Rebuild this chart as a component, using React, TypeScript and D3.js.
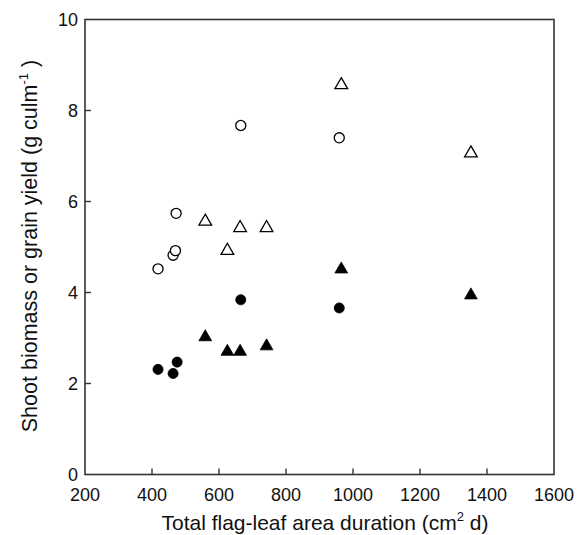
import React, { useEffect, useRef } from 'react';
import * as d3 from 'd3';

// flag-leaf area duration (cm2 d) and values (g culm-1)
const shootCircleX = [418, 463, 470, 472, 665, 959];
const shootCircleY = [4.52, 4.82, 4.92, 5.74, 7.67, 7.40];
const shootTriX = [559, 625, 663, 742, 965, 1352];
const shootTriY = [5.56, 4.92, 5.42, 5.42, 8.56, 7.06];
const grainCircleX = [418, 463, 475, 665, 959];
const grainCircleY = [2.31, 2.22, 2.47, 3.84, 3.66];
const grainTriX = [559, 625, 663, 742, 965, 1352];
const grainTriY = [3.02, 2.70, 2.70, 2.82, 4.51, 3.94];

const xTicks = [200, 400, 600, 800, 1000, 1200, 1400, 1600];
const yTicks = [0, 2, 4, 6, 8, 10];

const App = () => {
  const ref = useRef<SVGSVGElement | null>(null);

  useEffect(() => {
    const width = 585;
    const height = 535;
    const margin = { top: 19.5, right: 31, bottom: 60.5, left: 85 };
    const svg = d3.select(ref.current);
    svg.selectAll('*').remove();

    const x = d3.scaleLinear().domain([200, 1600]).range([margin.left, width - margin.right]);
    const y = d3.scaleLinear().domain([0, 10]).range([height - margin.bottom, margin.top]);

    const font = "'Liberation Sans', Arial, sans-serif";
    const axisColor = '#333';

    // frame
    svg.append('rect')
      .attr('x', x(200)).attr('y', y(10))
      .attr('width', x(1600) - x(200)).attr('height', y(0) - y(10))
      .attr('fill', 'none').attr('stroke', axisColor).attr('stroke-width', 1.6);

    // ticks (inward)
    const tickLen = 6;
    svg.append('g').selectAll('line').data(xTicks.slice(1, -1)).enter().append('line')
      .attr('x1', d => x(d)).attr('x2', d => x(d))
      .attr('y1', y(0)).attr('y2', y(0) - tickLen)
      .attr('stroke', axisColor).attr('stroke-width', 1.4);
    svg.append('g').selectAll('line').data(yTicks.slice(1, -1)).enter().append('line')
      .attr('x1', x(200)).attr('x2', x(200) + tickLen)
      .attr('y1', d => y(d)).attr('y2', d => y(d))
      .attr('stroke', axisColor).attr('stroke-width', 1.4);

    // tick labels
    svg.append('g').selectAll('text').data(xTicks).enter().append('text')
      .attr('x', d => x(d)).attr('y', y(0) + 26)
      .attr('text-anchor', 'middle')
      .style('font-family', font).style('font-size', '18px').attr('fill', '#111')
      .text(d => d);
    svg.append('g').selectAll('text').data(yTicks).enter().append('text')
      .attr('x', x(200) - 7).attr('y', d => y(d) + 6)
      .attr('text-anchor', 'end')
      .style('font-family', font).style('font-size', '18px').attr('fill', '#111')
      .text(d => d);

    // axis titles
    const xt = svg.append('text')
      .attr('x', 325).attr('y', 530)
      .attr('text-anchor', 'middle')
      .style('font-family', font).style('font-size', '21px').attr('fill', '#111');
    xt.append('tspan').text('Total flag-leaf area duration (cm');
    xt.append('tspan').attr('dy', -9).style('font-size', '13px').text('2');
    xt.append('tspan').attr('dy', 9).text(' d)');

    const yt = svg.append('text')
      .attr('transform', `translate(37,246) rotate(-90)`)
      .attr('text-anchor', 'middle')
      .style('font-family', font).style('font-size', '21.5px').attr('fill', '#111');
    yt.append('tspan').text('Shoot biomass or grain yield (g culm');
    yt.append('tspan').attr('dy', -9).style('font-size', '13px').text('-1');
    yt.append('tspan').attr('dy', 9).text(' )');

    const circle = d3.symbol().type(d3.symbolCircle).size(80);
    const tri = d3.symbol().type(d3.symbolTriangle).size(70);

    const drawSeries = (xs: number[], ys: number[], shape: any, filled: boolean) => {
      svg.append('g').selectAll('path').data(xs.map((v, i) => [v, ys[i]])).enter().append('path')
        .attr('d', shape)
        .attr('transform', d => `translate(${x(d[0])},${y(d[1])})`)
        .attr('fill', filled ? '#000' : '#fff')
        .attr('stroke', '#000')
        .attr('stroke-width', filled ? 0.8 : 1.3);
    };

    drawSeries(shootCircleX, shootCircleY, circle, false);
    drawSeries(shootTriX, shootTriY, tri, false);
    drawSeries(grainCircleX, grainCircleY, circle, true);
    drawSeries(grainTriX, grainTriY, tri, true);
  }, []);

  return (
    <svg ref={ref} width={585} height={535}
      style={{ position: 'absolute', left: 0, top: 0, background: '#fff' }} />
  );
};

export default App;
